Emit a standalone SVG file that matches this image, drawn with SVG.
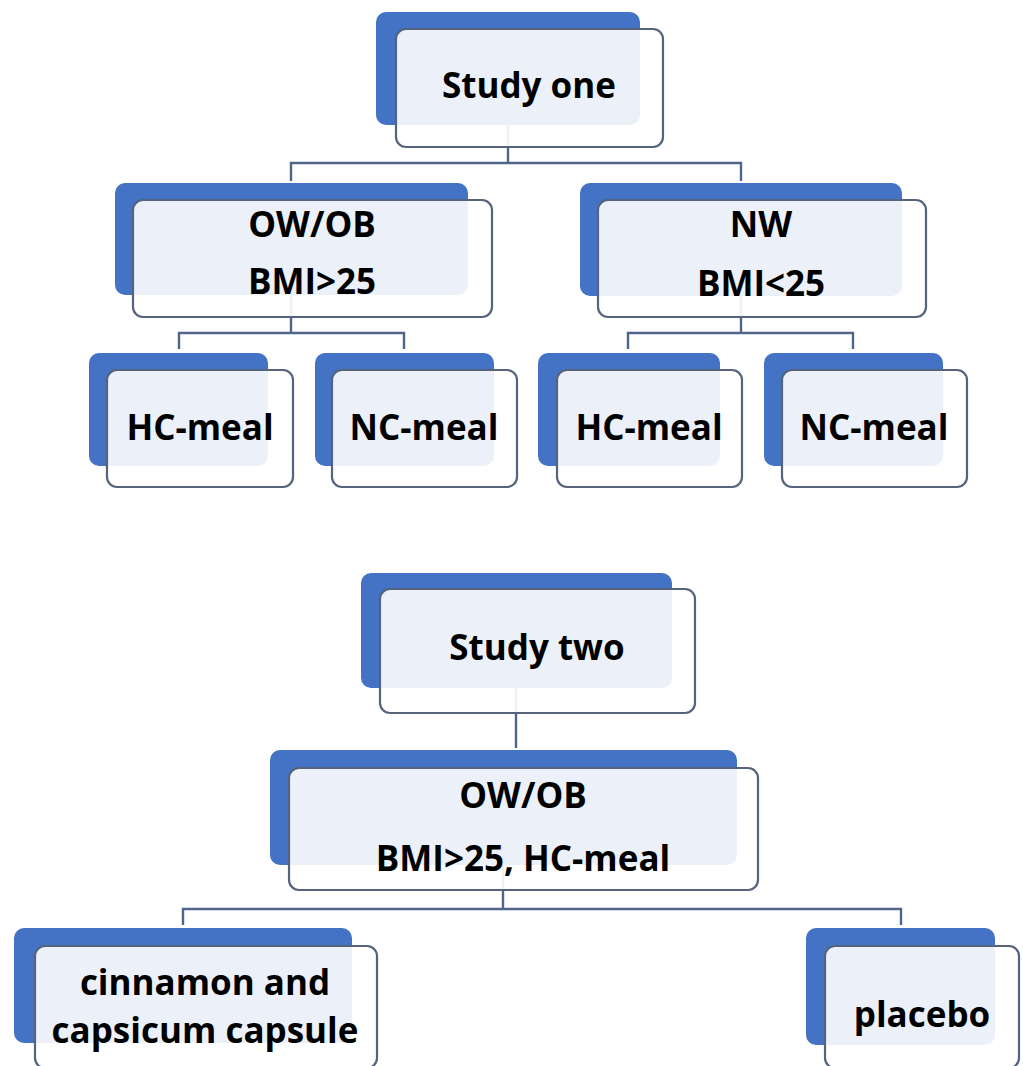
<svg xmlns="http://www.w3.org/2000/svg" width="1023" height="1066" viewBox="0 0 1023 1066">
<style>
.back{fill:#4472C4;}
.front{fill:#ffffff;fill-opacity:0.9;stroke:#55647c;stroke-width:2.2;}
.lbl{font-family:"Open Sans","Liberation Sans",sans-serif;font-weight:700;font-size:35px;fill:#000000;text-anchor:middle;}
.conn{fill:none;stroke:#50658a;stroke-width:2.4;}
</style>
<rect width="1023" height="1066" fill="#ffffff"/>
<g id="connectors">
<path class="conn" d="M508 125 V163 M291 181 V163 H741 V181"/>
<path class="conn" d="M291 295 V333 M179 349 V333 H404 V349"/>
<path class="conn" d="M741 296 V333 M628 349 V333 H853 V349"/>
<path class="conn" d="M516 688 V748"/>
<path class="conn" d="M503 865 V909 M183 925 V909 H901 V925"/>
</g>
<g id="study-one">
<rect class="back" x="376" y="12" width="264" height="113" rx="10"/>
<rect class="front" x="396" y="29" width="267" height="118" rx="10"/>
<text class="lbl" x="529" y="98">Study one</text>
</g>
<g id="owob-1">
<rect class="back" x="115" y="183" width="353" height="112" rx="10"/>
<rect class="front" x="133" y="200" width="359" height="117" rx="10"/>
<text class="lbl" x="312" y="237">OW/OB</text>
<text class="lbl" x="312" y="294">BMI&gt;25</text>
</g>
<g id="nw">
<rect class="back" x="580" y="183" width="322" height="113" rx="10"/>
<rect class="front" x="598" y="200" width="328" height="117" rx="10"/>
<text class="lbl" x="761" y="237">NW</text>
<text class="lbl" x="761" y="296">BMI&lt;25</text>
</g>
<g id="hc-meal-1">
<rect class="back" x="89" y="353" width="179" height="113" rx="10"/>
<rect class="front" x="107" y="370" width="186" height="117" rx="10"/>
<text class="lbl" x="200" y="440">HC-meal</text>
</g>
<g id="nc-meal-1">
<rect class="back" x="315" y="353" width="179" height="113" rx="10"/>
<rect class="front" x="332" y="370" width="185" height="117" rx="10"/>
<text class="lbl" x="424" y="440">NC-meal</text>
</g>
<g id="hc-meal-2">
<rect class="back" x="538" y="353" width="182" height="113" rx="10"/>
<rect class="front" x="557" y="370" width="185" height="117" rx="10"/>
<text class="lbl" x="649" y="440">HC-meal</text>
</g>
<g id="nc-meal-2">
<rect class="back" x="764" y="353" width="179" height="113" rx="10"/>
<rect class="front" x="782" y="370" width="185" height="117" rx="10"/>
<text class="lbl" x="874" y="440">NC-meal</text>
</g>
<g id="study-two">
<rect class="back" x="361" y="573" width="311" height="115" rx="10"/>
<rect class="front" x="380" y="589" width="315" height="124" rx="10"/>
<text class="lbl" x="537" y="660">Study two</text>
</g>
<g id="owob-2">
<rect class="back" x="270" y="750" width="467" height="115" rx="10"/>
<rect class="front" x="289" y="768" width="469" height="122" rx="10"/>
<text class="lbl" x="523" y="808">OW/OB</text>
<text class="lbl" x="523" y="871">BMI&gt;25, HC-meal</text>
</g>
<g id="cinnamon">
<rect class="back" x="14" y="928" width="338" height="115" rx="10"/>
<rect class="front" x="35" y="946" width="342" height="122" rx="10"/>
<text class="lbl" x="205" y="995">cinnamon and</text>
<text class="lbl" x="205" y="1043">capsicum capsule</text>
</g>
<g id="placebo">
<rect class="back" x="806" y="928" width="189" height="117" rx="10"/>
<rect class="front" x="825" y="946" width="194" height="122" rx="10"/>
<text class="lbl" x="922" y="1027">placebo</text>
</g>
</svg>
